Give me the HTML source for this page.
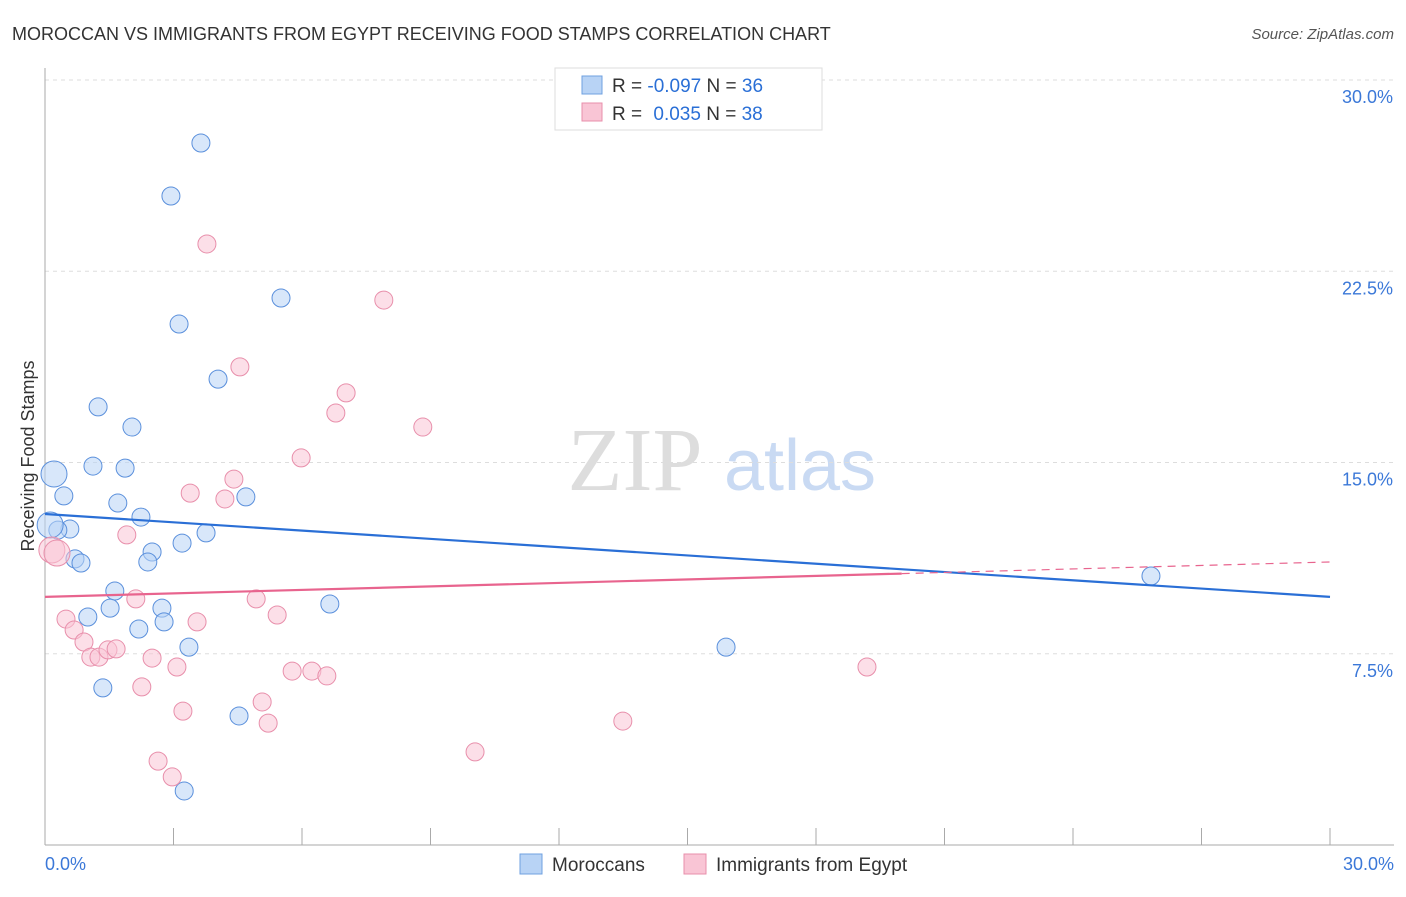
<!DOCTYPE html>
<html><head><meta charset="utf-8"><style>
body{margin:0;background:#fff;font-family:"Liberation Sans",sans-serif}
</style></head><body>
<svg id="c" width="1406" height="892" xmlns="http://www.w3.org/2000/svg">
<text x="12" y="40" font-size="18" fill="#333">MOROCCAN VS IMMIGRANTS FROM EGYPT RECEIVING FOOD STAMPS CORRELATION CHART</text>
<text x="1394" y="39" font-size="15" fill="#555" text-anchor="end" font-style="italic">Source: ZipAtlas.com</text>
<text x="34" y="456" font-size="18" fill="#333" text-anchor="middle" transform="rotate(-90 34 456)">Receiving Food Stamps</text>
<g><text x="635" y="490" font-size="90" fill="#ddd" font-family="Liberation Serif" text-anchor="middle">ZIP</text><text x="800" y="490" font-size="72" fill="#c9daf3" text-anchor="middle">atlas</text></g>
<g id="grid"></g><g id="marks"></g>
<g>
<rect x="555" y="68" width="267" height="62" fill="#fff" stroke="#ddd"/>
<rect x="582" y="76" width="20" height="18" fill="#b8d3f5" stroke="#6fa0e0"/>
<rect x="582" y="103" width="20" height="18" fill="#f9c5d5" stroke="#e88fab"/>
<text x="612" y="92" font-size="19" fill="#333">R = <tspan fill="#2a6fd6">-0.097</tspan>   N = <tspan fill="#2a6fd6">36</tspan></text>
<text x="612" y="120" font-size="19" fill="#333">R =  <tspan fill="#2a6fd6" dx="6">0.035</tspan>   N = <tspan fill="#2a6fd6">38</tspan></text>
</g>
<g>
<rect x="520" y="854" width="22" height="20" fill="#b8d3f5" stroke="#6fa0e0"/>
<text x="552" y="871" font-size="19" fill="#333">Moroccans</text>
<rect x="684" y="854" width="22" height="20" fill="#f9c5d5" stroke="#e88fab"/>
<text x="716" y="871" font-size="19" fill="#333">Immigrants from Egypt</text>
</g>
</svg>
<script>
const blueX=[3.64,2.94,3.13,5.51,4.04,1.24,2.03,0.21,1.12,1.87,0.44,1.70,4.69,2.24,0.58,0.30,3.76,3.20,2.50,0.70,0.84,2.40,1.63,1.52,2.73,1.00,2.78,2.19,3.36,6.65,1.35,4.53,3.25,15.90,25.82,0.12];
const blueY=[27.53,25.45,20.43,21.45,18.27,17.18,16.39,14.55,14.86,14.78,13.69,13.41,13.65,12.86,12.39,12.35,12.24,11.84,11.49,11.22,11.06,11.10,9.96,9.29,9.29,8.94,8.75,8.47,7.76,9.45,6.16,5.06,2.12,7.76,10.55,12.55];
const pinkX=[3.78,7.91,4.55,7.03,6.79,8.82,5.98,4.41,3.39,4.20,1.91,0.16,2.12,4.93,0.49,3.55,5.42,0.68,0.91,1.07,1.26,1.47,1.66,2.50,3.08,5.77,6.23,6.58,2.26,5.07,3.22,5.21,13.49,19.19,2.64,2.97,10.04,0.28];
const pinkY=[23.57,21.37,18.75,17.73,16.94,16.39,15.18,14.35,13.80,13.57,12.16,11.57,9.65,9.65,8.86,8.75,9.02,8.43,7.96,7.37,7.37,7.65,7.69,7.33,6.98,6.82,6.82,6.63,6.20,5.61,5.25,4.78,4.86,6.98,3.29,2.67,3.65,11.45];
const yTicks=[7.5,15,22.5,30];
const yTickLabels=["7.5%","15.0%","22.5%","30.0%"];
const blueTrend=[12.98,9.73];
const pinkTrend=[9.73,11.10];
const pinkSolidEnd=20;
const NS="http://www.w3.org/2000/svg";
const sx=v=>45+v/30*1285, sy=v=>845-v/30*765;
const g=document.getElementById('grid'), m=document.getElementById('marks');
function el(t,a,p){const e=document.createElementNS(NS,t);for(const k in a)e.setAttribute(k,a[k]);p.appendChild(e);return e;}
yTicks.forEach((t,i)=>{
 const l=el('line',{x1:45,x2:1394,y1:sy(t),y2:sy(t),stroke:'#ddd','stroke-dasharray':'4,4'},g);
 
 
 const tx=el('text',{x:1393,y:sy(t)+23,'font-size':18,fill:'#3b78d8','text-anchor':'end'},g);
 tx.textContent=yTickLabels[i];
 
 
});
const ax=el('line',{x1:45,x2:45,y1:68,y2:845,stroke:'#aaa'},g);


const bx=el('line',{x1:45,x2:1394,y1:845,y2:845,stroke:'#aaa'},g);


for(let i=0;i<=10;i++){const t=el('line',{x1:sx(i*3),x2:sx(i*3),y1:828,y2:845,stroke:'#aaa'},g);
 
 }
[["0.0%",45,"start"],["30.0%",1394,"end"]].forEach(d=>{const t=el('text',{x:d[1],y:870,'font-size':18,fill:'#3b78d8','text-anchor':d[2]},g);t.textContent=d[0];
 
 });
function pts(X,Y,fill,stroke,name){X.forEach((x,i)=>{const big=x<0.3;const c=el('circle',{cx:sx(x),cy:sy(Y[i]),r:big?13:9,fill:fill,'fill-opacity':0.55,stroke:stroke,'stroke-width':1},m);
 
 });}
pts(blueX,blueY,'#b8d3f5','#5b90dc','moroccan-point');
pts(pinkX,pinkY,'#f9c5d5','#e88fab','egypt-point');
const bl=el('line',{x1:sx(0),y1:sy(blueTrend[0]),x2:sx(30),y2:sy(blueTrend[1]),stroke:'#2a6fd6','stroke-width':2.2},m);


const pf=v=>pinkTrend[0]+(pinkTrend[1]-pinkTrend[0])*v/30;
const pl=el('line',{x1:sx(0),y1:sy(pinkTrend[0]),x2:sx(pinkSolidEnd),y2:sy(pf(pinkSolidEnd)),stroke:'#e8648e','stroke-width':2.2},m);


const pd=el('line',{x1:sx(pinkSolidEnd),y1:sy(pf(pinkSolidEnd)),x2:sx(30),y2:sy(pinkTrend[1]),stroke:'#e8648e','stroke-width':1.2,'stroke-dasharray':'8,6'},m);


</script>
</body></html>
